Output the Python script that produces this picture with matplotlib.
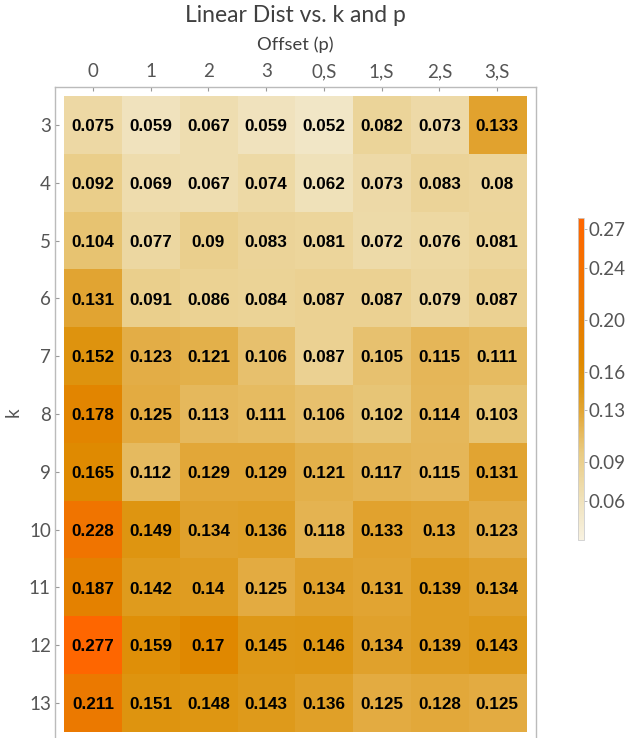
import numpy as np
import matplotlib
matplotlib.use("Agg")
import matplotlib.pyplot as plt
from matplotlib.colors import LinearSegmentedColormap, Normalize

plt.rcParams['font.family'] = ['Lato', 'DejaVu Sans']

offsets = ['0', '1', '2', '3', '0,S', '1,S', '2,S', '3,S']
ks = [3, 4, 5, 6, 7, 8, 9, 10, 11, 12, 13]

dist = np.array([
    [0.075, 0.059, 0.067, 0.059, 0.052, 0.082, 0.073, 0.133],
    [0.092, 0.069, 0.067, 0.074, 0.062, 0.073, 0.083, 0.080],
    [0.104, 0.077, 0.090, 0.083, 0.081, 0.072, 0.076, 0.081],
    [0.131, 0.091, 0.086, 0.084, 0.087, 0.087, 0.079, 0.087],
    [0.152, 0.123, 0.121, 0.106, 0.087, 0.105, 0.115, 0.111],
    [0.178, 0.125, 0.113, 0.111, 0.106, 0.102, 0.114, 0.103],
    [0.165, 0.112, 0.129, 0.129, 0.121, 0.117, 0.115, 0.131],
    [0.228, 0.149, 0.134, 0.136, 0.118, 0.133, 0.130, 0.123],
    [0.187, 0.142, 0.140, 0.125, 0.134, 0.131, 0.139, 0.134],
    [0.277, 0.159, 0.170, 0.145, 0.146, 0.134, 0.139, 0.143],
    [0.211, 0.151, 0.148, 0.143, 0.136, 0.125, 0.128, 0.125],
])

cbar_ticks = [0.06, 0.09, 0.13, 0.16, 0.20, 0.24, 0.27]
vmin, vmax = 0.03, 0.2785

cmap = LinearSegmentedColormap.from_list('cream_orange', [
    (0.00, '#f8f2e0'),
    (0.10, '#f1e5c3'),
    (0.27, '#e9cb82'),
    (0.40, '#e2a636'),
    (0.47, '#de9714'),
    (0.55, '#e08a00'),
    (0.65, '#e68000'),
    (0.80, '#f17400'),
    (1.00, '#ff6600'),
])
norm = Normalize(vmin, vmax)

W, H = 635, 738
fig = plt.figure(figsize=(W / 100, H / 100), dpi=100)

ax = fig.add_axes([55 / W, 0, 481 / W, 651 / H])
ax.imshow(dist, cmap=cmap, norm=norm, aspect='auto',
          extent=(-0.5, 7.5, 10.5, -0.5), interpolation='nearest')
ax.set_xlim(-0.656, 7.672)
ax.set_ylim(10.604, -0.656)

for i in range(len(ks)):
    for j in range(len(offsets)):
        ax.text(j, i + 0.03, f"{dist[i, j]:g}", ha='center', va='center',
                fontsize=12.3, fontweight='bold', family='Liberation Sans',
                color='black')

grey = '#555555'
ax.xaxis.tick_top()
ax.set_xticks(range(len(offsets)))
ax.set_xticklabels(offsets)
ax.set_yticks(range(len(ks)))
ax.set_yticklabels([str(k) for k in ks])
ax.tick_params(direction='in', length=3, width=0.8, color='#999999',
               labelcolor=grey, labelsize=13.5, pad=3)
ax.tick_params(axis='x', pad=5)
for side, sp in ax.spines.items():
    sp.set_color('#bbbbbb')
    sp.set_linewidth(1.0)
ax.spines['bottom'].set_visible(False)

ax.set_ylabel('k', fontsize=13.5, color=grey, labelpad=5)

fig.text(295.5 / W, 1 - 16 / H, 'Linear Dist vs. k and p', ha='center',
         va='center', fontsize=16.5, color='#404040')
fig.text(295.5 / W, 1 - 45 / H, 'Offset (p)', ha='center', va='center',
         fontsize=13.2, color='#404040')

cax = fig.add_axes([578 / W, 198 / H, 6 / W, 322 / H])
cb = fig.colorbar(plt.cm.ScalarMappable(norm=norm, cmap=cmap), cax=cax)
cb.set_ticks(cbar_ticks)
cb.set_ticklabels([f"{t:.2f}" for t in cbar_ticks])
cb.outline.set_edgecolor('#cccccc')
cb.outline.set_linewidth(0.6)
cax.tick_params(direction='out', length=2, width=0.6, color='#aaaaaa',
                labelcolor=grey, labelsize=13.5, pad=1)

fig.savefig('out.png', dpi=100)
